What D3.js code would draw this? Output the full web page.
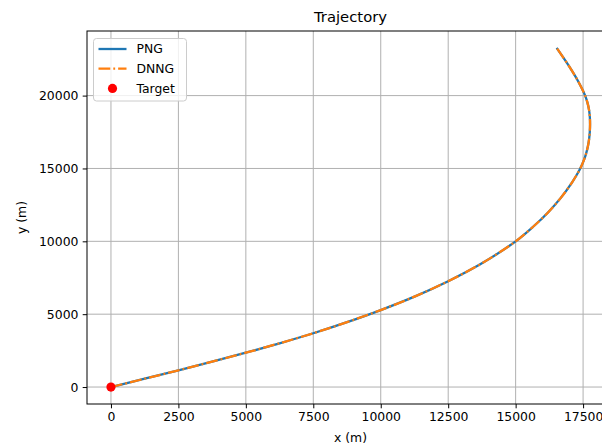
<!DOCTYPE html>
<html>
<head>
<meta charset="utf-8">
<script src="https://cdn.jsdelivr.net/npm/d3@7"></script>
<style>
  html, body { margin: 0; padding: 0; background: #fff; }
  svg { display: block; font-family: "DejaVu Sans", sans-serif; }
</style>
</head>
<body>
<svg id="chart" width="602" height="448"></svg>
<script>
// Trajectory samples (x, y in metres)
const pngX  = [0, 1250, 2500, 3750, 5000, 6250, 7500, 8750, 10000, 11250, 12500, 13750, 15000, 15647, 16209, 16681, 17075, 17245, 17395, 17516, 17609, 17677, 17722, 17748, 17758, 17751, 17722, 17664, 17576, 17311, 16985, 16520];
const pngY  = [0, 570, 1148, 1740, 2355, 3003, 3693, 4453, 5283, 6203, 7263, 8493, 10000, 11000, 12000, 13000, 14000, 14500, 15000, 15500, 16000, 16500, 17000, 17500, 18000, 18500, 19000, 19500, 20000, 21000, 22000, 23270];
const dnngX = [0, 1250, 2500, 3750, 5000, 6250, 7500, 8750, 10000, 11250, 12500, 13750, 15000, 15647, 16209, 16681, 17075, 17245, 17395, 17516, 17609, 17677, 17722, 17748, 17758, 17751, 17722, 17664, 17576, 17311, 16985, 16520];
const dnngY = [0, 570, 1148, 1740, 2355, 3003, 3693, 4453, 5283, 6203, 7263, 8493, 10000, 11000, 12000, 13000, 14000, 14500, 15000, 15500, 16000, 16500, 17000, 17500, 18000, 18500, 19000, 19500, 20000, 21000, 22000, 23270];
const targetX = [0];
const targetY = [0];

const xTicks = [0, 2500, 5000, 7500, 10000, 12500, 15000, 17500];
const yTicks = [0, 5000, 10000, 15000, 20000];

const svg = d3.select("#chart");
const plotL = 87, plotT = 31, plotR = 614, plotB = 404;
const fontSize = 12.4;

// matplotlib-style 5% margins around the data extent
const allX = pngX.concat(dnngX, targetX), allY = pngY.concat(dnngY, targetY);
const [x0, x1] = d3.extent(allX), [y0, y1] = d3.extent(allY);
const mx = (x1 - x0) * 0.05, my = (y1 - y0) * 0.05;
const x = d3.scaleLinear().domain([x0 - mx, x1 + mx]).range([plotL, plotR]);
const y = d3.scaleLinear().domain([y0 - my, y1 + my]).range([plotB, plotT]);

// grid
const grid = svg.append("g").attr("stroke", "#b0b0b0").attr("stroke-width", 1);
grid.selectAll("line.gx").data(xTicks).join("line")
  .attr("x1", d => x(d)).attr("x2", d => x(d)).attr("y1", plotT).attr("y2", plotB);
grid.selectAll("line.gy").data(yTicks).join("line")
  .attr("x1", plotL).attr("x2", plotR).attr("y1", d => y(d)).attr("y2", d => y(d));

// data lines
const line = d3.line().x(d => x(d[0])).y(d => y(d[1])).curve(d3.curveCatmullRom.alpha(0.5));
const pngPts = pngX.map((v, i) => [v, pngY[i]]);
const dnngPts = dnngX.map((v, i) => [v, dnngY[i]]);
svg.append("path").datum(pngPts).attr("d", line)
  .attr("fill", "none").attr("stroke", "#1f77b4").attr("stroke-width", 2.3);
svg.append("path").datum(dnngPts).attr("d", line)
  .attr("fill", "none").attr("stroke", "#ff7f0e").attr("stroke-width", 2.3)
  .attr("stroke-dasharray", "11.8,3,1.85,3");

// target marker
svg.selectAll("circle.target").data(targetX.map((v, i) => [v, targetY[i]])).join("circle")
  .attr("cx", d => x(d[0])).attr("cy", d => y(d[1])).attr("r", 4.6).attr("fill", "#ff0000");

// axes
const xAxis = d3.axisBottom(x).tickValues(xTicks).tickSize(4.3).tickPadding(4.3).tickFormat(d3.format("d"));
const yAxis = d3.axisLeft(y).tickValues(yTicks).tickSize(4.3).tickPadding(4.3).tickFormat(d3.format("d"));
const gx = svg.append("g").attr("transform", `translate(0,${plotB})`).call(xAxis);
const gy = svg.append("g").attr("transform", `translate(${plotL},0)`).call(yAxis);
[gx, gy].forEach(g => {
  g.select(".domain").remove();
  g.selectAll("line").attr("stroke", "#000").attr("stroke-width", 1);
  g.selectAll("text").attr("font-size", fontSize).attr("fill", "#000").attr("font-family", "DejaVu Sans");
});

// spines
svg.append("rect").attr("x", plotL).attr("y", plotT).attr("width", plotR - plotL).attr("height", plotB - plotT)
  .attr("fill", "none").attr("stroke", "#000").attr("stroke-width", 1);

// labels
const cx = (plotL + plotR) / 2;
svg.append("text").attr("x", cx).attr("y", 22).attr("text-anchor", "middle")
  .attr("font-size", 14.8).text("Trajectory");
svg.append("text").attr("x", cx).attr("y", 442).attr("text-anchor", "middle")
  .attr("font-size", fontSize).text("x (m)");
svg.append("text").attr("transform", `translate(26,${(plotT + plotB) / 2}) rotate(-90)`)
  .attr("text-anchor", "middle").attr("font-size", fontSize).text("y (m)");

// legend
const lg = svg.append("g").attr("transform", "translate(93.5,38.5)");
lg.append("rect").attr("width", 93).attr("height", 62.5).attr("rx", 3)
  .attr("fill", "#fff").attr("fill-opacity", 0.8).attr("stroke", "#cccccc").attr("stroke-width", 1);
const items = [
  { label: "PNG", color: "#1f77b4", dash: null, kind: "line" },
  { label: "DNNG", color: "#ff7f0e", dash: "11.8,3,1.85,3", kind: "line" },
  { label: "Target", color: "#ff0000", dash: null, kind: "dot" }
];
items.forEach((it, i) => {
  const yy = 10.5 + i * 19.7;
  if (it.kind === "line") {
    lg.append("line").attr("x1", 5).attr("x2", 33).attr("y1", yy).attr("y2", yy)
      .attr("stroke", it.color).attr("stroke-width", 2.3).attr("stroke-dasharray", it.dash);
  } else {
    lg.append("circle").attr("cx", 19).attr("cy", yy).attr("r", 4.6).attr("fill", it.color);
  }
  lg.append("text").attr("x", 43).attr("y", yy).attr("dy", "0.35em")
    .attr("font-size", fontSize).text(it.label);
});
</script>
</body>
</html>
